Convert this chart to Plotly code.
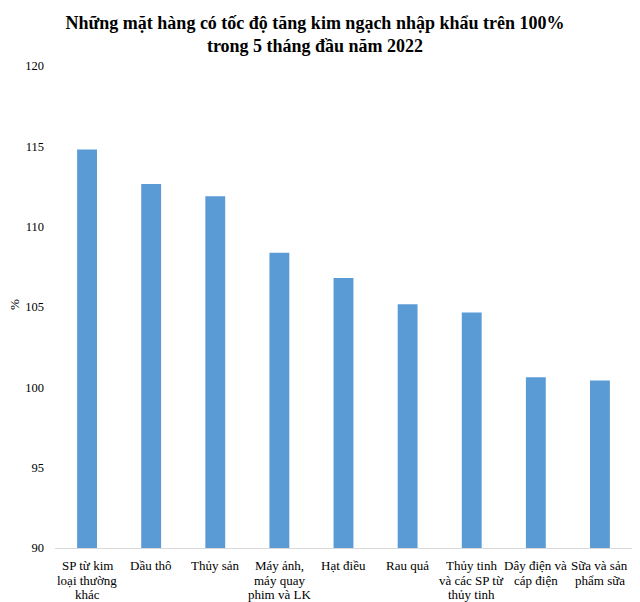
import plotly.graph_objects as go

categories = [
    "SP từ kim<br>loại thường<br>khác",
    "Dầu thô",
    "Thủy sản",
    "Máy ảnh,<br>máy quay<br>phim và LK",
    "Hạt điều",
    "Rau quả",
    "Thủy tinh<br>và các SP từ<br>thủy tinh",
    "Dây điện và<br>cáp điện",
    "Sữa và sản<br>phẩm sữa",
]
values = [114.8, 112.65, 111.9, 108.37, 106.8, 105.17, 104.65, 100.63, 100.42]
y_ticks = [90, 95, 100, 105, 110, 115, 120]

font_family = "Liberation Serif, Times New Roman, serif"

PLOT_TOP, PLOT_BOTTOM = 66, 548
PLOT_H = PLOT_BOTTOM - PLOT_TOP
LINE_CENTERS = [565, 580, 594]  # px from top for the category label lines

fig = go.Figure(
    go.Bar(
        x=categories,
        y=values,
        marker=dict(color="#5B9BD5", line=dict(width=0)),
        width=0.31,
    )
)

annotations = []
# category labels, one annotation per line (tighter line spacing like the source)
for cat in categories:
    for i, line in enumerate(cat.split("<br>")):
        annotations.append(
            dict(
                text=line,
                x=cat,
                xref="x",
                y=(PLOT_BOTTOM - LINE_CENTERS[i]) / PLOT_H,
                yref="paper",
                xanchor="center",
                yanchor="middle",
                showarrow=False,
                font=dict(family=font_family, size=13, color="#000000"),
            )
        )

annotations.append(
    dict(
        text="%",
        x=(14 - 55) / 577,
        y=1 - (305 - PLOT_TOP) / PLOT_H,
        xref="paper",
        yref="paper",
        xanchor="center",
        yanchor="middle",
        textangle=-90,
        showarrow=False,
        font=dict(family=font_family, size=13, color="#000000"),
    )
)

fig.update_layout(
    width=640,
    height=602,
    margin=dict(l=55, r=8, t=PLOT_TOP, b=602 - PLOT_BOTTOM),
    paper_bgcolor="white",
    plot_bgcolor="white",
    showlegend=False,
    font=dict(family=font_family, size=13, color="#000000"),
    title=dict(
        text="<b>Những mặt hàng có tốc độ tăng kim ngạch nhập khẩu trên 100%<br>trong 5 tháng đầu năm 2022</b>",
        x=315 / 640,
        xanchor="center",
        xref="container",
        yref="container",
        y=1 - 29 / 602,
        yanchor="middle",
        font=dict(family=font_family, size=18, color="#000000"),
    ),
    xaxis=dict(
        showline=True,
        linecolor="#d9d9d9",
        linewidth=1,
        ticks="",
        showticklabels=False,
        showgrid=False,
        automargin=False,
    ),
    yaxis=dict(
        range=[90, 120],
        tickvals=y_ticks,
        showgrid=False,
        zeroline=False,
        showline=False,
        ticks="",
        ticklabelstandoff=10,
        automargin=False,
        tickfont=dict(size=12.5),
    ),
    annotations=annotations,
)

fig.write_html("out.html")
